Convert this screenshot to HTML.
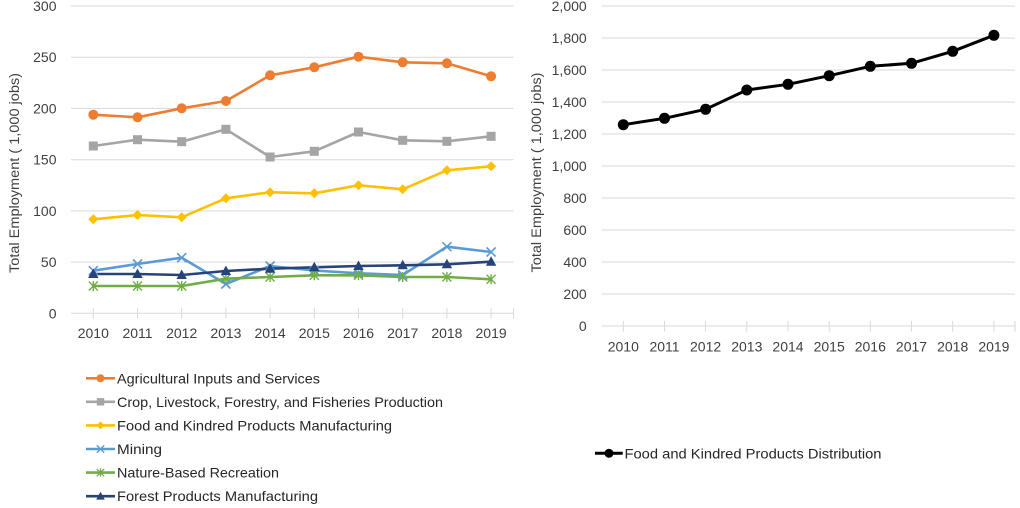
<!DOCTYPE html>
<html><head><meta charset="utf-8"><style>
html,body{margin:0;padding:0;background:#fff;}
svg{display:block;font-family:"Liberation Sans",sans-serif;}
</style></head><body>
<svg width="1020" height="508" viewBox="0 0 1020 508" xmlns="http://www.w3.org/2000/svg">
<rect width="1020" height="508" fill="#fff"/>
<!-- LEFT CHART gridlines -->
<g stroke="#d9d9d9" stroke-width="1">
<line x1="71" y1="6" x2="513.5" y2="6"/>
<line x1="71" y1="57.2" x2="513.5" y2="57.2"/>
<line x1="71" y1="108.4" x2="513.5" y2="108.4"/>
<line x1="71" y1="159.7" x2="513.5" y2="159.7"/>
<line x1="71" y1="210.9" x2="513.5" y2="210.9"/>
<line x1="71" y1="262.1" x2="513.5" y2="262.1"/>
<line x1="71" y1="313.3" x2="513.5" y2="313.3"/>
<line x1="93.3" y1="308" x2="93.3" y2="318.5"/>
<line x1="137.5" y1="308" x2="137.5" y2="318.5"/>
<line x1="181.7" y1="308" x2="181.7" y2="318.5"/>
<line x1="225.9" y1="308" x2="225.9" y2="318.5"/>
<line x1="270.1" y1="308" x2="270.1" y2="318.5"/>
<line x1="314.3" y1="308" x2="314.3" y2="318.5"/>
<line x1="358.5" y1="308" x2="358.5" y2="318.5"/>
<line x1="402.7" y1="308" x2="402.7" y2="318.5"/>
<line x1="446.9" y1="308" x2="446.9" y2="318.5"/>
<line x1="491.1" y1="308" x2="491.1" y2="318.5"/>
<line x1="513.5" y1="308" x2="513.5" y2="318.5"/>
</g>
<g fill="#404040" font-size="14" text-anchor="end">
<text x="56.5" y="11">300</text>
<text x="56.5" y="62.2">250</text>
<text x="56.5" y="113.4">200</text>
<text x="56.5" y="164.7">150</text>
<text x="56.5" y="215.9">100</text>
<text x="56.5" y="267.1">50</text>
<text x="56.5" y="318.3">0</text>
</g>
<g fill="#404040" font-size="14" text-anchor="middle">
<text x="93.3" y="338">2010</text>
<text x="137.5" y="338">2011</text>
<text x="181.7" y="338">2012</text>
<text x="225.9" y="338">2013</text>
<text x="270.1" y="338">2014</text>
<text x="314.3" y="338">2015</text>
<text x="358.5" y="338">2016</text>
<text x="402.7" y="338">2017</text>
<text x="446.9" y="338">2018</text>
<text x="491.1" y="338">2019</text>
</g>
<text transform="translate(19,173) rotate(-90)" text-anchor="middle" font-size="13.5" fill="#404040" textLength="200" lengthAdjust="spacingAndGlyphs">Total Employment ( 1,000 jobs)</text>

<!-- Series lines -->
<g fill="none" stroke-width="2.6" stroke-linejoin="round" stroke-linecap="round">
<polyline stroke="#ED7D31" points="93.3,114.7 137.5,117.3 181.7,108.3 225.9,101 270.1,75.3 314.3,67.3 358.5,56.7 402.7,62.3 446.9,63.3 491.1,76.3"/>
<polyline stroke="#A5A5A5" points="93.3,146 137.5,139.7 181.7,141.7 225.9,129.3 270.1,157 314.3,151.3 358.5,132 402.7,140.3 446.9,141.3 491.1,136.3"/>
<polyline stroke="#FFC000" points="93.3,219.3 137.5,215 181.7,217.3 225.9,198.3 270.1,192.3 314.3,193.3 358.5,185.3 402.7,189.3 446.9,170.3 491.1,166.3"/>
<polyline stroke="#5B9BD5" points="93.3,270.7 137.5,264 181.7,257.7 225.9,284 270.1,266 314.3,270.5 358.5,273.3 402.7,275 446.9,246.7 491.1,252"/>
<polyline stroke="#70AD47" points="93.3,286 137.5,286 181.7,286 225.9,278.7 270.1,277 314.3,275.3 358.5,275.3 402.7,277 446.9,277 491.1,279.3"/>
<polyline stroke="#264478" points="93.3,274 137.5,274 181.7,275 225.9,271 270.1,268.7 314.3,267.3 358.5,266 402.7,265.3 446.9,264.3 491.1,261.7"/>
</g>
<!-- orange circles -->
<g fill="#ED7D31">
<circle cx="93.3" cy="114.7" r="5"/><circle cx="137.5" cy="117.3" r="5"/><circle cx="181.7" cy="108.3" r="5"/><circle cx="225.9" cy="101" r="5"/><circle cx="270.1" cy="75.3" r="5"/><circle cx="314.3" cy="67.3" r="5"/><circle cx="358.5" cy="56.7" r="5"/><circle cx="402.7" cy="62.3" r="5"/><circle cx="446.9" cy="63.3" r="5"/><circle cx="491.1" cy="76.3" r="5"/>
</g>
<!-- gray squares -->
<g fill="#A5A5A5">
<rect x="88.8" y="141.5" width="9" height="9"/><rect x="133" y="135.2" width="9" height="9"/><rect x="177.2" y="137.2" width="9" height="9"/><rect x="221.4" y="124.8" width="9" height="9"/><rect x="265.6" y="152.5" width="9" height="9"/><rect x="309.8" y="146.8" width="9" height="9"/><rect x="354" y="127.5" width="9" height="9"/><rect x="398.2" y="135.8" width="9" height="9"/><rect x="442.4" y="136.8" width="9" height="9"/><rect x="486.6" y="131.8" width="9" height="9"/>
</g>
<!-- yellow diamonds -->
<g fill="#FFC000">
<polygon points="93.3,214.3 98.3,219.3 93.3,224.3 88.3,219.3"/>
<polygon points="137.5,210 142.5,215 137.5,220 132.5,215"/>
<polygon points="181.7,212.3 186.7,217.3 181.7,222.3 176.7,217.3"/>
<polygon points="225.9,193.3 230.9,198.3 225.9,203.3 220.9,198.3"/>
<polygon points="270.1,187.3 275.1,192.3 270.1,197.3 265.1,192.3"/>
<polygon points="314.3,188.3 319.3,193.3 314.3,198.3 309.3,193.3"/>
<polygon points="358.5,180.3 363.5,185.3 358.5,190.3 353.5,185.3"/>
<polygon points="402.7,184.3 407.7,189.3 402.7,194.3 397.7,189.3"/>
<polygon points="446.9,165.3 451.9,170.3 446.9,175.3 441.9,170.3"/>
<polygon points="491.1,161.3 496.1,166.3 491.1,171.3 486.1,166.3"/>
</g>
<!-- mining X -->
<g stroke="#5B9BD5" stroke-width="1.6" fill="none">
<path d="M88.8,266.2l9,9M88.8,275.2l9,-9"/>
<path d="M133,259.5l9,9M133,268.5l9,-9"/>
<path d="M177.2,253.2l9,9M177.2,262.2l9,-9"/>
<path d="M221.4,279.5l9,9M221.4,288.5l9,-9"/>
<path d="M265.6,261.5l9,9M265.6,270.5l9,-9"/>
<path d="M309.8,266l9,9M309.8,275l9,-9"/>
<path d="M354,268.8l9,9M354,277.8l9,-9"/>
<path d="M398.2,270.5l9,9M398.2,279.5l9,-9"/>
<path d="M442.4,242.2l9,9M442.4,251.2l9,-9"/>
<path d="M486.6,247.5l9,9M486.6,256.5l9,-9"/>
</g>
<!-- nature asterisks -->
<g stroke="#70AD47" stroke-width="1.4" fill="none">
<path d="M88.8,281.5l9,9M88.8,290.5l9,-9M93.3,281v10"/>
<path d="M133,281.5l9,9M133,290.5l9,-9M137.5,281v10"/>
<path d="M177.2,281.5l9,9M177.2,290.5l9,-9M181.7,281v10"/>
<path d="M221.4,274.2l9,9M221.4,283.2l9,-9M225.9,273.7v10"/>
<path d="M265.6,272.5l9,9M265.6,281.5l9,-9M270.1,272v10"/>
<path d="M309.8,270.8l9,9M309.8,279.8l9,-9M314.3,270.3v10"/>
<path d="M354,270.8l9,9M354,279.8l9,-9M358.5,270.3v10"/>
<path d="M398.2,272.5l9,9M398.2,281.5l9,-9M402.7,272v10"/>
<path d="M442.4,272.5l9,9M442.4,281.5l9,-9M446.9,272v10"/>
<path d="M486.6,274.8l9,9M486.6,283.8l9,-9M491.1,274.3v10"/>
</g>
<!-- forest triangles -->
<g fill="#264478">
<polygon points="93.3,268.5 98.5,278 88.1,278"/>
<polygon points="137.5,268.5 142.7,278 132.3,278"/>
<polygon points="181.7,269.5 186.9,279 176.5,279"/>
<polygon points="225.9,265.5 231.1,275 220.7,275"/>
<polygon points="270.1,263.2 275.3,272.7 264.9,272.7"/>
<polygon points="314.3,261.8 319.5,271.3 309.1,271.3"/>
<polygon points="358.5,260.5 363.7,270 353.3,270"/>
<polygon points="402.7,259.8 407.9,269.3 397.5,269.3"/>
<polygon points="446.9,258.8 452.1,268.3 441.7,268.3"/>
<polygon points="491.1,256.2 496.3,265.7 485.9,265.7"/>
</g>

<!-- LEFT LEGEND -->
<g stroke-width="2.6" fill="none">
<line x1="86" y1="378.3" x2="115" y2="378.3" stroke="#ED7D31"/>
<line x1="86" y1="401.8" x2="115" y2="401.8" stroke="#A5A5A5"/>
<line x1="86" y1="425.4" x2="115" y2="425.4" stroke="#FFC000"/>
<line x1="86" y1="449" x2="115" y2="449" stroke="#5B9BD5"/>
<line x1="86" y1="472.6" x2="115" y2="472.6" stroke="#70AD47"/>
<line x1="86" y1="496.2" x2="115" y2="496.2" stroke="#264478"/>
</g>
<circle cx="100.5" cy="378.3" r="4" fill="#ED7D31"/>
<rect x="96.8" y="398.1" width="7.4" height="7.4" fill="#A5A5A5"/>
<polygon points="100.5,421.4 104.5,425.4 100.5,429.4 96.5,425.4" fill="#FFC000"/>
<path d="M96.8,445.3l7.4,7.4M96.8,452.7l7.4,-7.4" stroke="#5B9BD5" stroke-width="1.4"/>
<path d="M96.8,468.9l7.4,7.4M96.8,476.3l7.4,-7.4M100.5,468.4v8.4" stroke="#70AD47" stroke-width="1.3"/>
<polygon points="100.5,491.8 104.8,499.6 96.2,499.6" fill="#264478"/>
<g fill="#262626" font-size="14">
<text x="117" y="383.3" textLength="203" lengthAdjust="spacingAndGlyphs">Agricultural Inputs and Services</text>
<text x="117" y="406.8" textLength="326" lengthAdjust="spacingAndGlyphs">Crop, Livestock, Forestry, and Fisheries Production</text>
<text x="117" y="430.4" textLength="275" lengthAdjust="spacingAndGlyphs">Food and Kindred Products Manufacturing</text>
<text x="117" y="454" textLength="45" lengthAdjust="spacingAndGlyphs">Mining</text>
<text x="117" y="477.6" textLength="162" lengthAdjust="spacingAndGlyphs">Nature-Based Recreation</text>
<text x="117" y="501.2" textLength="201" lengthAdjust="spacingAndGlyphs">Forest Products Manufacturing</text>
</g>

<!-- RIGHT CHART -->
<g stroke="#d9d9d9" stroke-width="1">
<line x1="602" y1="6" x2="1015" y2="6"/>
<line x1="602" y1="38" x2="1015" y2="38"/>
<line x1="602" y1="70" x2="1015" y2="70"/>
<line x1="602" y1="102" x2="1015" y2="102"/>
<line x1="602" y1="134" x2="1015" y2="134"/>
<line x1="602" y1="166" x2="1015" y2="166"/>
<line x1="602" y1="198" x2="1015" y2="198"/>
<line x1="602" y1="230" x2="1015" y2="230"/>
<line x1="602" y1="262" x2="1015" y2="262"/>
<line x1="602" y1="294" x2="1015" y2="294"/>
<line x1="602" y1="326" x2="1015" y2="326"/>
<line x1="623.3" y1="321" x2="623.3" y2="331.5"/>
<line x1="664.5" y1="321" x2="664.5" y2="331.5"/>
<line x1="705.6" y1="321" x2="705.6" y2="331.5"/>
<line x1="746.8" y1="321" x2="746.8" y2="331.5"/>
<line x1="788" y1="321" x2="788" y2="331.5"/>
<line x1="829.2" y1="321" x2="829.2" y2="331.5"/>
<line x1="870.3" y1="321" x2="870.3" y2="331.5"/>
<line x1="911.5" y1="321" x2="911.5" y2="331.5"/>
<line x1="952.7" y1="321" x2="952.7" y2="331.5"/>
<line x1="993.9" y1="321" x2="993.9" y2="331.5"/>
<line x1="1015" y1="321" x2="1015" y2="331.5"/>
</g>
<g fill="#404040" font-size="14" text-anchor="end">
<text x="586.7" y="11">2,000</text>
<text x="586.7" y="43">1,800</text>
<text x="586.7" y="75">1,600</text>
<text x="586.7" y="107">1,400</text>
<text x="586.7" y="139">1,200</text>
<text x="586.7" y="171">1,000</text>
<text x="586.7" y="203">800</text>
<text x="586.7" y="235">600</text>
<text x="586.7" y="267">400</text>
<text x="586.7" y="299">200</text>
<text x="586.7" y="331">0</text>
</g>
<g fill="#404040" font-size="14" text-anchor="middle">
<text x="623.3" y="351.7">2010</text>
<text x="664.5" y="351.7">2011</text>
<text x="705.6" y="351.7">2012</text>
<text x="746.8" y="351.7">2013</text>
<text x="788" y="351.7">2014</text>
<text x="829.2" y="351.7">2015</text>
<text x="870.3" y="351.7">2016</text>
<text x="911.5" y="351.7">2017</text>
<text x="952.7" y="351.7">2018</text>
<text x="993.9" y="351.7">2019</text>
</g>
<text transform="translate(541,172.5) rotate(-90)" text-anchor="middle" font-size="13.5" fill="#404040" textLength="200" lengthAdjust="spacingAndGlyphs">Total Employment ( 1,000 jobs)</text>
<polyline fill="none" stroke="#000" stroke-width="3" stroke-linejoin="round" points="623.3,124.7 664.5,118.3 705.6,109.3 746.8,90 788,84.3 829.2,75.7 870.3,66.3 911.5,63.3 952.7,51.3 993.9,35.3"/>
<g fill="#000">
<circle cx="623.3" cy="124.7" r="5.5"/><circle cx="664.5" cy="118.3" r="5.5"/><circle cx="705.6" cy="109.3" r="5.5"/><circle cx="746.8" cy="90" r="5.5"/><circle cx="788" cy="84.3" r="5.5"/><circle cx="829.2" cy="75.7" r="5.5"/><circle cx="870.3" cy="66.3" r="5.5"/><circle cx="911.5" cy="63.3" r="5.5"/><circle cx="952.7" cy="51.3" r="5.5"/><circle cx="993.9" cy="35.3" r="5.5"/>
</g>
<line x1="595" y1="453.3" x2="622.7" y2="453.3" stroke="#000" stroke-width="3"/>
<circle cx="609" cy="453.3" r="4.5" fill="#000"/>
<text x="624.5" y="458.3" fill="#262626" font-size="14" textLength="257" lengthAdjust="spacingAndGlyphs">Food and Kindred Products Distribution</text>
</svg>
</body></html>
